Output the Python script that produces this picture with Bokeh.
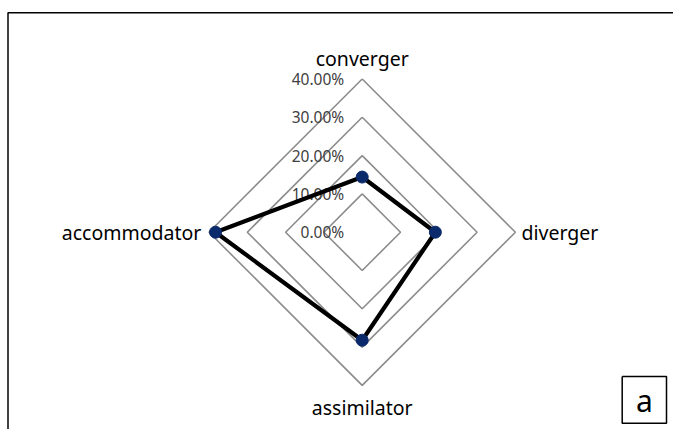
from bokeh.plotting import figure
from bokeh.models import Range1d
from bokeh.core.properties import value
from bokeh.embed import file_html
from bokeh.resources import INLINE
import numpy as np

# ---- data ----
categories = ["converger", "diverger", "assimilator", "accommodator"]
values = [14.4, 19.1, 28.2, 38.3]          # percent
tick_values = [0, 10, 20, 30, 40]
tick_labels = ["0.00%", "10.00%", "20.00%", "30.00%", "40.00%"]
grid_levels = [10, 20, 30, 40]
panel_label = "a"

# ---- layout ----
W, H = 673, 429
PX = 3.83                # pixels per percent
CX, CY = 361.7, 231.7    # centre in figure pixels (from top-left)
FONT = "Noto Sans"

def px2x(px):
    return (px - CX) / PX

def px2y(py):
    return (CY - py) / PX

p = figure(width=W, height=H, output_backend="svg", toolbar_location=None,
           x_range=Range1d(px2x(0), px2x(W)), y_range=Range1d(px2y(H), px2y(0)),
           min_border=0, outline_line_color=None)
p.axis.visible = False
p.grid.visible = False
p.background_fill_color = "white"
p.border_fill_color = "white"

angles = np.pi / 2 - np.arange(len(categories)) * 2 * np.pi / len(categories)

# grid diamonds
for g in grid_levels:
    xs = list(g * np.cos(angles)) + [g * np.cos(angles[0])]
    ys = list(g * np.sin(angles)) + [g * np.sin(angles[0])]
    p.line(xs, ys, line_color="#8c8c8c", line_width=1.6)

# tick labels
p.text(x=[px2x(CX - 18)] * len(tick_values), y=tick_values, text=tick_labels,
       text_align="right", text_baseline="middle", text_font=value(FONT),
       text_font_size="15.5px", text_color="#404040")

# series
v = np.array(values)
sx = v * np.cos(angles)
sy = v * np.sin(angles)
p.line(list(sx) + [sx[0]], list(sy) + [sy[0]], line_color="black", line_width=4.2,
       line_join="round")
p.scatter(sx, sy, size=12, fill_color="#0b2a6b", line_color="#0b2a6b")

# category labels
outer = max(grid_levels)
lab_x = [0, outer + 1.6, 0, -(outer + 2.0)]
lab_y = [outer + 5.4, 0, -(outer + 5.8), 0]
aligns = ["center", "left", "center", "right"]
for cx_, cy_, t, a in zip(lab_x, lab_y, categories, aligns):
    p.text(x=[cx_], y=[cy_], text=[t], text_align=a, text_baseline="middle",
           text_font=value(FONT), text_font_size="19.5px", text_color="black")

# outer frame (open to the right / bottom like a cropped page)
p.line([px2x(7.5), px2x(7.5), px2x(W + 10)], [px2y(H + 10), px2y(12.3), px2y(12.3)],
       line_color="black", line_width=1.5)

# panel label box
bx0, by0, bx1, by1 = 621.7, 376.0, 666.0, 422.7
p.line([px2x(bx0), px2x(bx1), px2x(bx1), px2x(bx0), px2x(bx0)],
       [px2y(by0), px2y(by0), px2y(by1), px2y(by1), px2y(by0)],
       line_color="black", line_width=1.5)
p.text(x=[px2x((bx0 + bx1) / 2)], y=[px2y((by0 + by1) / 2 + 1)], text=[panel_label],
       text_align="center", text_baseline="middle", text_font=value(FONT),
       text_font_size="30px", text_color="black")

open("out.html", "w").write(file_html(p, INLINE))
